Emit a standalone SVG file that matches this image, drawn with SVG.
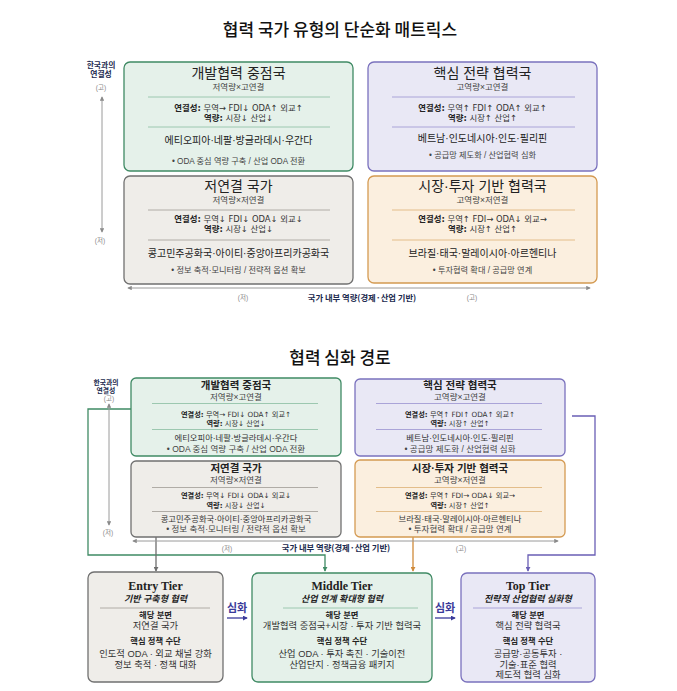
<svg xmlns="http://www.w3.org/2000/svg" width="677" height="691" viewBox="0 0 677 691">
<style>
text{font-family:"Liberation Sans","Noto Sans CJK KR",sans-serif;fill:#222;text-anchor:middle}
.k{font-family:"Noto Sans CJK KR","Noto Sans",sans-serif}
.d{font-family:"DejaVu Sans","Noto Sans CJK KR",sans-serif}
.ttl{font-size:17px;font-weight:500;fill:#111}
.ax{font-size:7.8px;font-weight:700;fill:#1b2a4e}
.ax2{font-size:6.8px;font-weight:700;fill:#1b2a4e}
.axl{font-size:8.3px;font-weight:700;fill:#1b2a4e}
.axs{font-size:6.5px;fill:#888}
.bt{font-size:14px;fill:#222}
.bs{font-size:8.5px;fill:#444}
.bl{font-size:8.4px;fill:#333}
.bc{font-size:10px;fill:#222}
.bb{font-size:8.2px;fill:#444}
.st{font-size:10.5px;font-weight:700;fill:#222}
.ss{font-size:8.5px;fill:#444}
.sl{font-size:7.2px;fill:#333}
.sc{font-size:8.3px;fill:#333}
.sb{font-size:8.5px;fill:#444}
.b{font-weight:700;fill:#222}
.tt{font-family:"Liberation Serif","Noto Sans CJK KR",serif;font-size:12px;font-weight:700;fill:#222}
.ti{font-size:9px;font-weight:700;font-style:italic;fill:#222}
.th{font-size:8.3px;font-weight:700;fill:#222}
.tx{font-size:9.3px;fill:#333}
.deep{font-size:11px;font-weight:700;fill:#3a3a9a}
.g rect{fill:#e5f1ea;stroke:#3f8a64;stroke-width:1.3}
.g line{stroke:#9cc8b0;stroke-width:1}
.p rect{fill:#e9e8f5;stroke:#7a71bd;stroke-width:1.3}
.p line{stroke:#aaa4d8;stroke-width:1}
.n rect{fill:#efede9;stroke:#707070;stroke-width:1.3}
.n line{stroke:#b0aca6;stroke-width:1}
.o rect{fill:#fbefdf;stroke:#d49a52;stroke-width:1.3}
.o line{stroke:#e3bd8a;stroke-width:1}
.axis{stroke:#9a9a9a;stroke-width:1;fill:none}
.c{fill:none;stroke-width:1.3}
</style>
<defs>
<marker id="ma" viewBox="0 0 6 6" refX="5" refY="3" markerWidth="4.5" markerHeight="4.5" orient="auto-start-reverse" markerUnits="userSpaceOnUse"><path d="M0,0 L6,3 L0,6 z" fill="#8a8a8a"/></marker>
<marker id="mg" viewBox="0 0 6 6" refX="5" refY="3" markerWidth="5" markerHeight="5" orient="auto" markerUnits="userSpaceOnUse"><path d="M0,0 L6,3 L0,6 z" fill="#3f8a64"/></marker>
<marker id="mn" viewBox="0 0 6 6" refX="5" refY="3" markerWidth="5" markerHeight="5" orient="auto" markerUnits="userSpaceOnUse"><path d="M0,0 L6,3 L0,6 z" fill="#6e6e6e"/></marker>
<marker id="mo" viewBox="0 0 6 6" refX="5" refY="3" markerWidth="5" markerHeight="5" orient="auto" markerUnits="userSpaceOnUse"><path d="M0,0 L6,3 L0,6 z" fill="#d08a3a"/></marker>
<marker id="mp" viewBox="0 0 6 6" refX="5" refY="3" markerWidth="5" markerHeight="5" orient="auto" markerUnits="userSpaceOnUse"><path d="M0,0 L6,3 L0,6 z" fill="#6a5fb5"/></marker>
<marker id="mb" viewBox="0 0 6 6" refX="5" refY="3" markerWidth="5" markerHeight="5" orient="auto" markerUnits="userSpaceOnUse"><path d="M0,0 L6,3 L0,6 z" fill="#3a3a9a"/></marker>
</defs>
<rect width="677" height="691" fill="#ffffff"/>

<!-- ===== Section 1 ===== -->
<text class="k ttl" x="340" y="36">협력 국가 유형의 단순화 매트릭스</text>

<g id="axes1">
<text class="ax" x="101" y="68">한국과의</text>
<text class="ax" x="101" y="77">연결성</text>
<text class="axs" x="101" y="90">(고)</text>
<line class="axis" x1="102" y1="97" x2="102" y2="232" marker-start="url(#ma)" marker-end="url(#ma)"/>
<text class="axs" x="100" y="243">(저)</text>
<line class="axis" x1="128" y1="288" x2="590" y2="288" marker-start="url(#ma)" marker-end="url(#ma)"/>
<text class="axs" x="243" y="300">(저)</text>
<text class="k axl" x="362" y="301">국가 내부 역량(경제·산업 기반)</text>
<text class="axs" x="472" y="300">(고)</text>
</g>

<g id="m1-dev" class="g">
<rect x="124" y="62" width="229" height="109" rx="6"/>
<text class="bt" x="238.5" y="77.5">개발협력 중점국</text>
<text class="bs" x="238.5" y="90">저역량×고연결</text>
<line x1="148" y1="97" x2="330" y2="97"/>
<text class="d bl" x="238.5" y="110.5"><tspan class="b">연결성:</tspan> 무역→ FDI↓ ODA↑ 외교↑</text>
<text class="d bl" x="238.5" y="120.5"><tspan class="b">역량:</tspan> 시장↓ 산업↓</text>
<line x1="148" y1="127" x2="330" y2="127"/>
<text class="bc" x="238.5" y="143.5">에티오피아·네팔·방글라데시·우간다</text>
<text class="bb" x="238.5" y="164">• ODA 중심 역량 구축 / 산업 ODA 전환</text>
</g>

<g id="m1-core" class="p">
<rect x="368" y="62" width="229" height="109" rx="6"/>
<text class="bt" x="482.5" y="77.5">핵심 전략 협력국</text>
<text class="bs" x="482.5" y="90">고역량×고연결</text>
<line x1="392" y1="97" x2="575" y2="97"/>
<text class="d bl" x="482.5" y="110.5"><tspan class="b">연결성:</tspan> 무역↑ FDI↑ ODA↑ 외교↑</text>
<text class="d bl" x="482.5" y="120.5"><tspan class="b">역량:</tspan> 시장↑ 산업↑</text>
<line x1="392" y1="127" x2="575" y2="127"/>
<text class="bc" x="482.5" y="142">베트남·인도네시아·인도·필리핀</text>
<text class="bb" x="482.5" y="158">• 공급망 제도화 / 산업협력 심화</text>
</g>

<g id="m1-low" class="n">
<rect x="124" y="176" width="229" height="108" rx="6"/>
<text class="bt" x="238.5" y="191">저연결 국가</text>
<text class="bs" x="238.5" y="202.5">저역량×저연결</text>
<line x1="148" y1="210" x2="330" y2="210"/>
<text class="d bl" x="238.5" y="222"><tspan class="b">연결성:</tspan> 무역↓ FDI↓ ODA↓ 외교↓</text>
<text class="d bl" x="238.5" y="232"><tspan class="b">역량:</tspan> 시장↓ 산업↓</text>
<line x1="148" y1="240" x2="330" y2="240"/>
<text class="bc" x="238.5" y="256.5">콩고민주공화국·아이티·중앙아프리카공화국</text>
<text class="bb" x="238.5" y="272.5">• 정보 축적·모니터링 / 전략적 옵션 확보</text>
</g>

<g id="m1-mkt" class="o">
<rect x="368" y="176" width="229" height="107" rx="6"/>
<text class="bt" x="482.5" y="191">시장·투자 기반 협력국</text>
<text class="bs" x="482.5" y="202.5">고역량×저연결</text>
<line x1="392" y1="210" x2="575" y2="210"/>
<text class="d bl" x="482.5" y="222"><tspan class="b">연결성:</tspan> 무역↑ FDI→ ODA↓ 외교→</text>
<text class="d bl" x="482.5" y="232"><tspan class="b">역량:</tspan> 시장↑ 산업↑</text>
<line x1="392" y1="240" x2="575" y2="240"/>
<text class="bc" x="482.5" y="256.5">브라질·태국·말레이시아·아르헨티나</text>
<text class="bb" x="482.5" y="272.5">• 투자협력 확대 / 공급망 연계</text>
</g>

<!-- ===== Section 2 ===== -->
<text class="k ttl" x="340" y="364">협력 심화 경로</text>

<g id="connectors">
<path class="c" stroke="#3f8a64" d="M131,409 H88 V555 H325 V571" marker-end="url(#mg)"/>
<path class="c" stroke="#6e6e6e" d="M156,537 V571" marker-end="url(#mn)"/>
<path class="c" stroke="#d08a3a" d="M413,537 V571" marker-end="url(#mo)"/>
<path class="c" stroke="#6a5fb5" d="M572,416 H595 V555 H528 V571" marker-end="url(#mp)"/>
<line x1="227" y1="618" x2="247" y2="618" stroke="#3a3a9a" stroke-width="1.3" marker-end="url(#mb)"/>
<line x1="435" y1="618" x2="455" y2="618" stroke="#3a3a9a" stroke-width="1.3" marker-end="url(#mb)"/>
</g>

<g id="axes2">
<text class="ax2" x="106" y="385">한국과의</text>
<text class="ax2" x="106" y="393">연결성</text>
<text class="axs" x="109" y="401">(고)</text>
<line class="axis" x1="109" y1="404" x2="109" y2="525" marker-start="url(#ma)" marker-end="url(#ma)"/>
<text class="axs" x="108" y="535">(저)</text>
<line class="axis" x1="133" y1="541" x2="558" y2="541" marker-start="url(#ma)" marker-end="url(#ma)"/>
<text class="axs" x="227" y="551">(저)</text>
<text class="k axl" x="336" y="551">국가 내부 역량(경제·산업 기반)</text>
<text class="axs" x="461" y="551">(고)</text>
</g>

<g id="m2-dev" class="g">
<rect x="131" y="378" width="210" height="78" rx="5"/>
<text class="st" x="236" y="389">개발협력 중점국</text>
<text class="ss" x="236" y="399.5">저역량×고연결</text>
<line x1="152" y1="403.5" x2="318" y2="403.5"/>
<text class="d sl" x="236" y="416.5"><tspan class="b">연결성:</tspan> 무역→ FDI↓ ODA↑ 외교↑</text>
<text class="d sl" x="236" y="426"><tspan class="b">역량:</tspan> 시장↓ 산업↓</text>
<line x1="152" y1="429.5" x2="318" y2="429.5"/>
<text class="sc" x="236" y="441">에티오피아·네팔·방글라데시·우간다</text>
<text class="sb" x="236" y="452">• ODA 중심 역량 구축 / 산업 ODA 전환</text>
</g>

<g id="m2-core" class="p">
<rect x="355" y="379" width="210" height="77" rx="5"/>
<text class="st" x="460" y="389">핵심 전략 협력국</text>
<text class="ss" x="460" y="399.5">고역량×고연결</text>
<line x1="376" y1="403.5" x2="542" y2="403.5"/>
<text class="d sl" x="460" y="416.5"><tspan class="b">연결성:</tspan> 무역↑ FDI↑ ODA↑ 외교↑</text>
<text class="d sl" x="460" y="426"><tspan class="b">역량:</tspan> 시장↑ 산업↑</text>
<line x1="376" y1="429.5" x2="542" y2="429.5"/>
<text class="sc" x="460" y="441">베트남·인도네시아·인도·필리핀</text>
<text class="sb" x="460" y="452">• 공급망 제도화 / 산업협력 심화</text>
</g>

<g id="m2-low" class="n">
<rect x="131" y="461" width="210" height="76" rx="5"/>
<text class="st" x="236" y="472">저연결 국가</text>
<text class="ss" x="236" y="483">저역량×저연결</text>
<line x1="152" y1="487.5" x2="318" y2="487.5"/>
<text class="d sl" x="236" y="497.5"><tspan class="b">연결성:</tspan> 무역↓ FDI↓ ODA↓ 외교↓</text>
<text class="d sl" x="236" y="508"><tspan class="b">역량:</tspan> 시장↓ 산업↓</text>
<line x1="152" y1="511.5" x2="318" y2="511.5"/>
<text class="sc" x="236" y="521.5">콩고민주공화국·아이티·중앙아프리카공화국</text>
<text class="sb" x="236" y="532">• 정보 축적·모니터링 / 전략적 옵션 확보</text>
</g>

<g id="m2-mkt" class="o">
<rect x="355" y="460" width="210" height="77" rx="5"/>
<text class="st" x="460" y="472">시장·투자 기반 협력국</text>
<text class="ss" x="460" y="483">고역량×저연결</text>
<line x1="376" y1="487.5" x2="542" y2="487.5"/>
<text class="d sl" x="460" y="497.5"><tspan class="b">연결성:</tspan> 무역↑ FDI→ ODA↓ 외교→</text>
<text class="d sl" x="460" y="508"><tspan class="b">역량:</tspan> 시장↑ 산업↑</text>
<line x1="376" y1="511.5" x2="542" y2="511.5"/>
<text class="sc" x="460" y="521.5">브라질·태국·말레이시아·아르헨티나</text>
<text class="sb" x="460" y="532">• 투자협력 확대 / 공급망 연계</text>
</g>

<g id="tier-entry" class="n">
<rect x="88" y="572" width="135" height="110" rx="6"/>
<text class="tt" x="155.5" y="590">Entry Tier</text>
<text class="ti" x="155.5" y="602">기반 구축형 협력</text>
<line x1="100" y1="608" x2="210" y2="608"/>
<text class="th" x="155.5" y="617.5">해당 분면</text>
<text class="tx" x="155.5" y="628.5">저연결 국가</text>
<text class="th" x="155.5" y="644">핵심 정책 수단</text>
<text class="tx" x="155.5" y="656.5">인도적 ODA · 외교 채널 강화</text>
<text class="tx" x="155.5" y="667.5">정보 축적 · 정책 대화</text>
</g>

<g id="tier-middle" class="g">
<rect x="252" y="573" width="180" height="109" rx="6"/>
<text class="tt" x="342" y="590">Middle Tier</text>
<text class="ti" x="342" y="602">산업 연계 확대형 협력</text>
<line x1="283" y1="608" x2="418" y2="608"/>
<text class="th" x="342" y="617.5">해당 분면</text>
<text class="tx" x="342" y="628.5">개발협력 중점국+시장 · 투자 기반 협력국</text>
<text class="th" x="342" y="644">핵심 정책 수단</text>
<text class="tx" x="342" y="656.5">산업 ODA · 투자 촉진 · 기술이전</text>
<text class="tx" x="342" y="667.5">산업단지 · 정책금융 패키지</text>
</g>

<g id="tier-top" class="p">
<rect x="461" y="573" width="134" height="109" rx="6"/>
<text class="tt" x="528" y="590">Top Tier</text>
<text class="ti" x="528" y="602">전략적 산업협력 심화형</text>
<line x1="473" y1="608" x2="582" y2="608"/>
<text class="th" x="528" y="617.5">해당 분면</text>
<text class="tx" x="528" y="628.5">핵심 전략 협력국</text>
<text class="th" x="528" y="644">핵심 정책 수단</text>
<text class="tx" x="528" y="657">공급망·공동투자 ·</text>
<text class="tx" x="528" y="667.5">기술·표준 협력</text>
<text class="tx" x="528" y="678">제도적 협력 심화</text>
</g>

<g id="deepen-labels">
<text class="deep" x="237" y="612">심화</text>
<text class="deep" x="445" y="612">심화</text>
</g>
</svg>
